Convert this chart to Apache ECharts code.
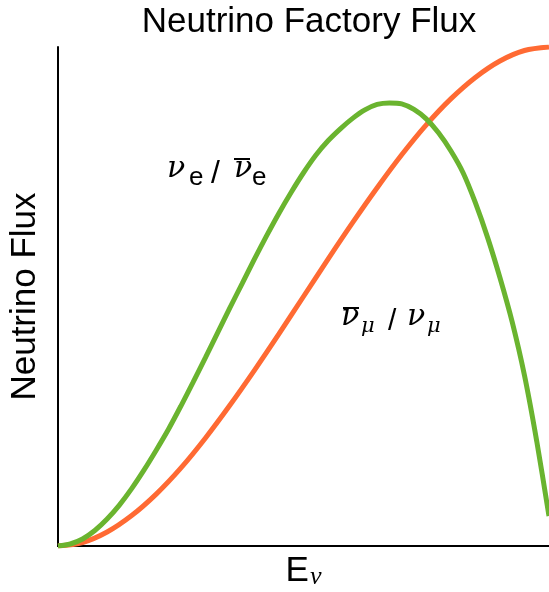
<!DOCTYPE html>
<html><head><meta charset="utf-8">
<script src="https://cdn.jsdelivr.net/npm/echarts@6/dist/echarts.min.js"></script>
<style>html,body{margin:0;padding:0;background:#fff}#c{width:549px;height:592px}</style>
</head><body><div id="c"></div>
<script>
// Green curve: nu_e / anti-nu_e
const energyNuE = [0,0.025,0.05,0.075,0.1,0.125,0.15,0.175,0.2,0.225,0.25,0.275,0.3,0.325,0.35,0.375,0.4,0.425,0.45,0.475,0.5,0.525,0.55,0.575,0.6,0.625,0.65,0.675,0.7,0.725,0.75,0.775,0.8,0.825,0.85,0.875,0.9,0.925,0.95,0.975,1];
const fluxNuE   = [0,0.004,0.014,0.031,0.054,0.082,0.115,0.152,0.192,0.234,0.28,0.328,0.377,0.427,0.477,0.526,0.575,0.622,0.667,0.709,0.748,0.783,0.812,0.836,0.857,0.874,0.885,0.888,0.886,0.875,0.856,0.828,0.792,0.748,0.688,0.618,0.538,0.449,0.342,0.21,0.06];
// Orange curve: anti-nu_mu / nu_mu
const energyNuMu = [0,0.05,0.1,0.15,0.2,0.25,0.3,0.35,0.4,0.45,0.5,0.55,0.6,0.65,0.7,0.75,0.8,0.85,0.9,0.95,1];
const fluxNuMu   = [0,0.007,0.028,0.061,0.104,0.156,0.216,0.282,0.352,0.425,0.5,0.575,0.648,0.718,0.784,0.844,0.896,0.939,0.972,0.993,1.0];

const titleText = 'Neutrino Factory Flux';
const yName = 'Neutrino Flux';

const SANS = 'Liberation Sans, Arial, sans-serif';
const SERIF = 'Liberation Serif, Times New Roman, serif';
const GREEK = 'DejaVu Serif, serif';

const chart = echarts.init(document.getElementById('c'), null, {renderer: 'canvas'});
const pairs = (xs, ys) => xs.map((x, i) => [x, ys[i]]);

function txt(str, x, y, font, size, italic) {
  return {type: 'text', x: x, y: y, z: 10, silent: true,
    style: {text: str, fontFamily: font, fontSize: size, fontStyle: italic ? 'italic' : 'normal',
      fill: '#000', align: 'left', verticalAlign: 'middle'}};
}
function bar(x1, x2, y) {
  return {type: 'line', z: 10, silent: true, shape: {x1: x1, y1: y, x2: x2, y2: y},
    style: {stroke: '#000', lineWidth: 2}};
}

chart.setOption({
  animation: false,
  backgroundColor: '#fff',
  title: {
    text: titleText,
    left: 304, top: 0, textAlign: 'center',
    textStyle: {fontFamily: SANS, fontSize: 35, fontWeight: 'normal', color: '#000'}
  },
  grid: {left: 58, top: 47, right: 0, bottom: 46, containLabel: false, outerBoundsMode: 'none'},
  xAxis: [{
    type: 'value', min: 0, max: 1, position: 'bottom',
    name: '{e|E}{n|ν}', nameLocation: 'middle', nameGap: 8,
    nameTextStyle: {
      rich: {
        e: {fontFamily: SANS, fontSize: 35, color: '#000', verticalAlign: 'top', lineHeight: 35},
        n: {fontFamily: SERIF, fontStyle: 'italic', fontSize: 26, color: '#000', verticalAlign: 'top', lineHeight: 26, padding: [10, 0, 0, 1]}
      }
    },
    axisLine: {show: true, onZero: false, lineStyle: {color: '#000', width: 2}},
    axisTick: {show: false}, axisLabel: {show: false}, splitLine: {show: false}
  }, {
    type: 'value', min: 0, max: 1, position: 'top',
    axisLine: {show: true, lineStyle: {color: '#000', width: 2}},
    axisTick: {show: false}, axisLabel: {show: false}, splitLine: {show: false}
  }],
  yAxis: {
    type: 'value', min: 0, max: 1,
    name: yName, nameLocation: 'middle', nameGap: 15,
    nameTextStyle: {fontFamily: SANS, fontSize: 35, color: '#000'},
    axisLine: {show: true, lineStyle: {color: '#000', width: 2}},
    axisTick: {show: false}, axisLabel: {show: false}, splitLine: {show: false}
  },
  series: [{
    type: 'line', data: pairs(energyNuMu, fluxNuMu), smooth: 0.3, showSymbol: false,
    lineStyle: {color: '#FF6A33', width: 5}, z: 2
  }, {
    type: 'line', data: pairs(energyNuE, fluxNuE), smooth: 0.3, showSymbol: false,
    lineStyle: {color: '#6AB42F', width: 5}, z: 3
  }],
  graphic: [
    // nu_e / anti-nu_e
    txt('ν', 167, 169.5, GREEK, 30, true),
    txt('e', 189, 178, SANS, 26, false),
    txt('/', 211, 174, SANS, 32, false),
    bar(234, 250, 159),
    txt('ν', 234, 169.5, GREEK, 30, true),
    txt('e', 252, 178, SANS, 26, false),
    // anti-nu_mu / nu_mu
    bar(343, 359, 308),
    txt('ν', 341, 317.5, GREEK, 30, true),
    txt('μ', 361, 326.5, GREEK, 21, true),
    txt('/', 388, 322, SANS, 30, false),
    txt('ν', 407, 317.5, GREEK, 30, true),
    txt('μ', 427, 326.5, GREEK, 21, true)
  ]
});
</script></body></html>
